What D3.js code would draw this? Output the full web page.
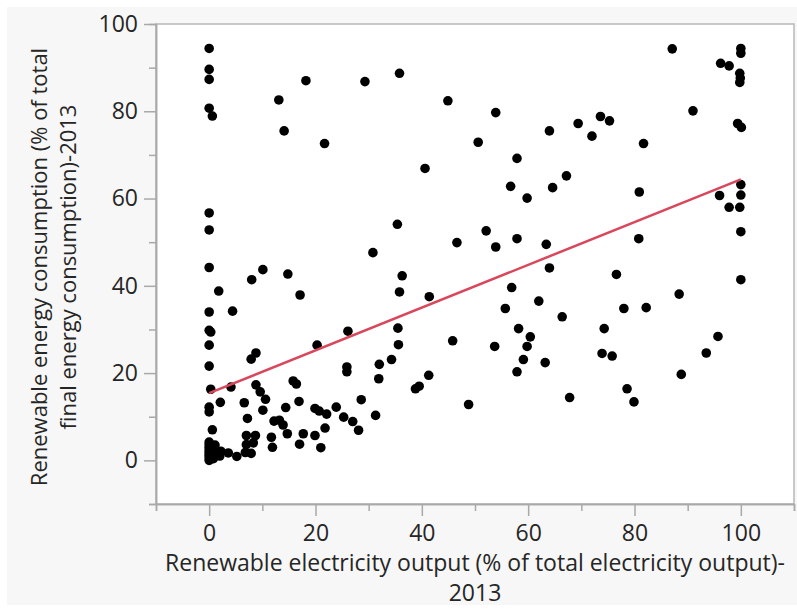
<!DOCTYPE html>
<html>
<head>
<meta charset="utf-8">
<script src="https://cdn.jsdelivr.net/npm/d3@7"></script>
<style>
	body { margin: 0; background: #fff; }
	svg { display: block; }
	text { font-family: "Open Sans", "Noto Sans", sans-serif; fill: #262626; }
	.axis path, .axis line { stroke: #a9a9a9; stroke-width: 1.5; }
	.axis text { font-size: 23px; font-family: "Open Sans", "Noto Sans", sans-serif; fill: #262626; }
	.label { font-size: 23px; }
	.label.y { font-size: 22px; }
</style>
</head>
<body>
<div id="chart"></div>
<script>
// renewable electricity output (% of total electricity output), 2013
var elecOutput = [
	0, 0, 0, 0, 0.6, 0, 0, 0, 1.8, 0, 0, 0.3, 0, 0, 0.3, 0, 0, 0.6,
	0, 0, 0, 0, 0, 0, 0, 0, 0.8, 0.9, 1.0, 1.1, 2.0, 2.2,
	3.6, 5.2, 6.8, 7.9, 7.0, 8.3,
	2.1, 4.1, 4.4, 8.0, 10.1, 14.8, 17.1, 30.8, 35.4, 26.1, 20.3, 8.8, 7.9,
	7.0, 8.7, 6.6, 7.2, 8.8, 9.6, 10.6, 10.1, 11.7, 11.9, 12.2, 13.2, 13.9, 14.7, 14.4,
	15.8, 16.4, 16.9, 17.0, 17.7, 19.9, 20.7, 22.1, 19.9, 21.0, 21.8, 23.9, 25.3, 27.0, 28.1,
	25.9, 25.9, 28.6, 31.3, 32.0, 31.9, 34.3, 35.6, 36.3, 35.8, 41.4, 35.5, 45.8,
	46.6, 52.1, 53.9, 57.9, 63.4, 64.0, 56.9, 55.7, 62.0, 66.4, 58.2, 60.4, 59.8, 53.7,
	74.3, 76.6, 78.0, 82.2, 80.8, 88.4, 95.7, 100, 100, 96.0, 97.8, 99.8, 100, 100,
	80.9, 59.8, 56.7, 64.6, 35.8, 87.1, 100, 100, 96.2, 97.8, 99.8, 99.9, 99.8,
	91.0, 99.4, 100.1, 44.9, 53.9, 69.4, 73.6, 75.3, 72.0, 64.0, 50.6, 81.7, 40.6, 57.9, 67.2,
	13.1, 18.2, 29.3, 14.1, 21.7,
	38.8, 39.5, 41.3, 48.8, 59.1, 57.9, 63.2, 67.8, 73.9, 75.8, 78.6, 79.9, 88.8, 93.5
]
// renewable energy consumption (% of total final energy consumption), 2013
var energyCons = [
	94.4, 89.6, 87.3, 80.7, 78.9, 56.7, 52.8, 44.2, 38.8, 34.0, 29.8, 29.4, 26.4, 21.6, 16.3, 12.2, 11.1, 7.0,
	0, 0.6, 1.2, 1.8, 2.4, 3.0, 3.6, 4.2, 0.4, 1.4, 2.6, 3.5, 1.0, 2.1,
	1.7, 0.9, 1.8, 1.6, 3.6, 4.0,
	13.3, 16.8, 34.2, 41.4, 43.7, 42.7, 37.9, 47.6, 54.1, 29.6, 26.4, 24.6, 23.2,
	5.7, 5.7, 13.2, 9.6, 17.3, 15.7, 14.0, 11.5, 5.3, 3.0, 9.0, 9.2, 8.1, 6.1, 12.1,
	18.2, 17.5, 13.5, 3.7, 6.1, 11.9, 11.3, 10.6, 5.7, 2.9, 7.4, 12.2, 9.9, 8.9, 6.9,
	21.4, 20.3, 13.9, 10.3, 22.0, 18.7, 23.1, 26.5, 42.3, 38.6, 37.5, 30.3, 27.4,
	49.9, 52.6, 48.9, 50.8, 49.5, 44.1, 39.6, 34.8, 36.5, 32.9, 30.2, 28.3, 26.1, 26.1,
	30.2, 42.6, 34.8, 35.0, 50.8, 38.1, 28.4, 41.4, 52.4, 60.7, 58.0, 58.0, 60.8, 63.2,
	61.5, 60.1, 62.8, 62.5, 88.7, 94.3, 94.4, 93.3, 91.0, 90.4, 88.7, 87.6, 86.6,
	80.1, 77.2, 76.3, 82.4, 79.7, 77.2, 78.8, 77.8, 74.3, 75.5, 72.9, 72.6, 66.9, 69.2, 65.2,
	82.6, 87.0, 86.8, 75.5, 72.6,
	16.4, 17.0, 19.5, 12.8, 23.1, 20.3, 22.4, 14.4, 24.5, 23.9, 16.4, 13.4, 19.7, 24.6
]
// fitted line
var fitX = [0, 100]
var fitY = [15.4, 64.4]

var xMajor = [0, 20, 40, 60, 80, 100]
var xMinor = [-10, 10, 30, 50, 70, 90, 110]
var yMajor = [0, 20, 40, 60, 80, 100]
var yMinor = [-10, 10, 30, 50, 70, 90]

var width = 797, height = 609
var plot = {left: 156, right: 794, top: 24, bottom: 504}

var svg = d3.select("#chart").append("svg")
	.attr("width", width)
	.attr("height", height)

svg.append("rect")
	.attr("x", 7).attr("y", 7)
	.attr("width", width - 7).attr("height", height - 11)
	.attr("fill", "#f7f7f7")

var x = d3.scaleLinear().domain([-10, 110]).range([plot.left, plot.right])
var y = d3.scaleLinear().domain([-10, 100]).range([plot.bottom, plot.top])

svg.append("rect")
	.attr("x", plot.left).attr("y", plot.top)
	.attr("width", plot.right - plot.left).attr("height", plot.bottom - plot.top)
	.attr("fill", "#fff")
	.attr("stroke", "#b8b8b8")
	.attr("stroke-width", 1.5)

var points = elecOutput.map((v, i) => ({x: v, y: energyCons[i]}))

svg.append("g")
	.selectAll("circle")
	.data(points)
	.enter()
	.append("circle")
		.attr("cx", (d) => x(d.x))
		.attr("cy", (d) => y(d.y))
		.attr("r", 4.8)
		.attr("fill", "#000")

var line = d3.line().x((d) => x(d[0])).y((d) => y(d[1]))
svg.append("path")
	.attr("d", line(fitX.map((v, i) => [v, fitY[i]])))
	.attr("fill", "none")
	.attr("stroke", "#d9475c")
	.attr("stroke-width", 2.5)

// axes
svg.append("g")
	.attr("class", "axis")
	.attr("transform", "translate(0," + plot.bottom + ")")
	.call(d3.axisBottom(x).tickValues(xMinor).tickSize(7).tickFormat(""))
svg.append("g")
	.attr("class", "axis")
	.attr("transform", "translate(0," + plot.bottom + ")")
	.call(d3.axisBottom(x).tickValues(xMajor).tickSize(12).tickPadding(9).tickSizeOuter(0))
svg.append("g")
	.attr("class", "axis")
	.attr("transform", "translate(" + plot.left + ",0)")
	.call(d3.axisLeft(y).tickValues(yMinor).tickSize(7).tickFormat(""))
svg.append("g")
	.attr("class", "axis")
	.attr("transform", "translate(" + plot.left + ",0)")
	.call(d3.axisLeft(y).tickValues(yMajor).tickSize(12).tickPadding(6).tickSizeOuter(0))

svg.selectAll(".axis .domain").attr("stroke", "#a9a9a9")

// titles
var xTitle = svg.append("text")
	.attr("class", "label")
	.attr("text-anchor", "middle")
	.attr("transform", "translate(" + ((plot.left + plot.right) / 2) + ",571)")
xTitle.append("tspan").attr("x", 0).attr("y", 0).text("Renewable electricity output (% of total electricity output)-")
xTitle.append("tspan").attr("x", 0).attr("y", 30).text("2013")

var yTitle = svg.append("text")
	.attr("class", "label y")
	.attr("text-anchor", "middle")
	.attr("transform", "translate(47,267) rotate(-90)")
yTitle.append("tspan").attr("x", 0).attr("y", 0).text("Renewable energy consumption (% of total")
yTitle.append("tspan").attr("x", 0).attr("y", 29).text("final energy consumption)-2013")
</script>
</body>
</html>
